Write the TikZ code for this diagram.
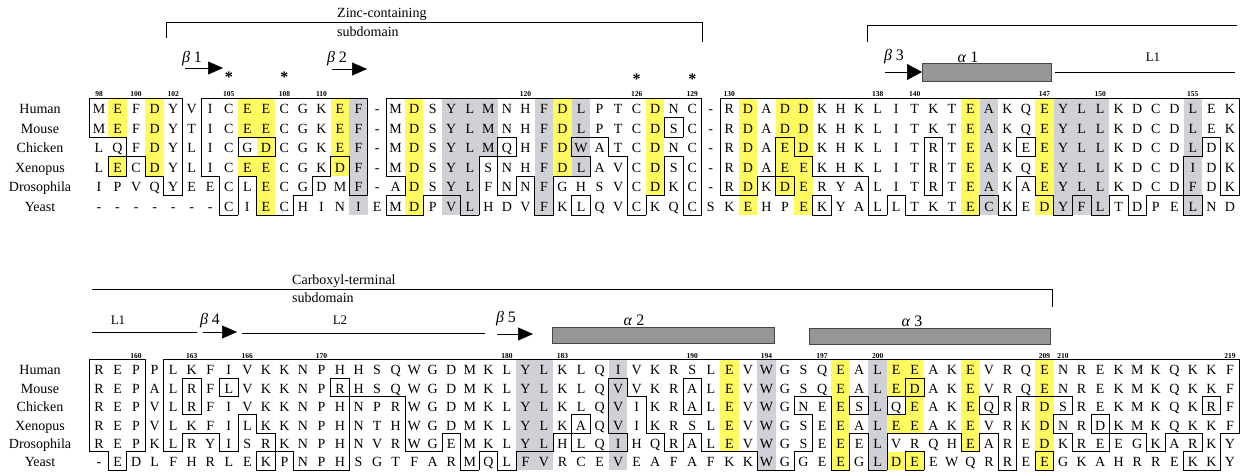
\documentclass[tikz,border=0pt]{standalone}
\usepackage{fontspec}
\setmainfont{Liberation Serif}
\usetikzlibrary{arrows.meta}

\definecolor{hlyellow}{RGB}{255,250,95}
\definecolor{hlgray}{RGB}{208,208,215}
\definecolor{helixgray}{RGB}{150,150,153}
\definecolor{helixedge}{RGB}{70,70,75}

\tikzset{
  res/.style={inner sep=0pt, anchor=base, font=\fontsize{14}{14}\selectfont},
  species/.style={inner sep=0pt, anchor=base, font=\fontsize{14}{14}\selectfont},
  resnum/.style={inner sep=0pt, anchor=base, font=\bfseries\fontsize{7.5}{7.5}\selectfont},
  boxline/.style={line width=0.8pt, line cap=rect},
  yel/.style={fill=hlyellow},
  gry/.style={fill=hlgray},
  rule/.style={line width=0.7pt},
  strand/.style={line width=0.7pt, -{Triangle[length=15pt,width=13pt]}},
  helix/.style={draw=helixedge, fill=helixgray, line width=0.7pt},
  sslabel/.style={inner sep=0pt, font=\fontsize{16}{16}\selectfont},
  looplabel/.style={inner sep=0pt, font=\fontsize{13}{13}\selectfont},
  domlabel/.style={inner sep=0pt, anchor=west, font=\fontsize{14}{14}\selectfont},
  conserved/.style={inner sep=0pt, font=\bfseries\fontsize{16}{16}\selectfont},
}

% highlight one column: column, first row, last row, style
\newcommand\hlcol[4]{%
  \fill[#4] ({99+(#1-0.5)*18.54},{\ytop+#2*\rowh}) rectangle ({99+(#1+0.5)*18.54},{\ytop+(#3+1)*\rowh});}

\ExplSyntaxOn
\intarray_new:Nn \g__aln_flag_intarray { 372 }
\int_step_inline:nn { 6 } { \str_new:c { g__aln_row_#1_str } }
\str_new:N \l__aln_h_str
\int_new:N \l__aln_n_int
\int_new:N \l__aln_f_int
\tl_new:N \l__aln_x_tl
\tl_new:N \l__aln_y_tl
\cs_generate_variant:Nn \str_item:Nn { c }
\cs_new:Npn \__aln_char:nn #1#2 { \str_item:cn { g__aln_row_#1_str } {#2} }
\cs_new:Npn \__aln_flag:nn #1#2
 {
  \int_compare:nTF { 1 <= #1 <= 6 }
   {
    \int_compare:nTF { 1 <= #2 <= 62 }
     { \intarray_item:Nn \g__aln_flag_intarray { (#1 - 1) * 62 + #2 } }
     { 0 }
   }
   { 0 }
 }
% a residue is boxed when it equals the human one and at least two rows share it
\cs_new_protected:Npn \__aln_compute:
 {
  \int_step_inline:nn { 62 }
   {
    \str_set:Nx \l__aln_h_str { \__aln_char:nn { 1 } { ##1 } }
    \int_zero:N \l__aln_n_int
    \int_step_inline:nn { 6 }
     {
      \str_if_eq:eeT { \__aln_char:nn { ####1 } { ##1 } } { \l__aln_h_str }
       { \int_incr:N \l__aln_n_int }
     }
    \int_step_inline:nn { 6 }
     {
      \int_zero:N \l__aln_f_int
      \str_if_eq:eeT { \__aln_char:nn { ####1 } { ##1 } } { \l__aln_h_str }
       { \int_compare:nNnT { \l__aln_n_int } > { 1 } { \int_set:Nn \l__aln_f_int { 1 } } }
      \str_if_eq:eeT { \l__aln_h_str } { - } { \int_zero:N \l__aln_f_int }
      \intarray_gset:Nnn \g__aln_flag_intarray { (####1 - 1) * 62 + ##1 } { \l__aln_f_int }
     }
   }
 }
\cs_new_protected:Npn \__aln_edges:nn #1#2
 {
  \int_step_inline:nnn { 0 } { 6 }
   {
    \int_step_inline:nn { 62 }
     {
      \int_compare:nNnF { \__aln_flag:nn { ##1 } { ####1 } } = { \__aln_flag:nn { ##1 + 1 } { ####1 } }
       {
        \tl_set:Nx \l__aln_x_tl { \fp_eval:n { 99 + (####1 - 1.5) * 18.54 } }
        \tl_set:Nx \l__aln_y_tl { \fp_eval:n { #1 + ##1 * #2 } }
        \draw [ boxline ] ( \l__aln_x_tl , \l__aln_y_tl ) -- ++ ( 18.54 , 0 ) ;
       }
     }
   }
  \int_step_inline:nn { 6 }
   {
    \int_step_inline:nnn { 0 } { 62 }
     {
      \int_compare:nNnF { \__aln_flag:nn { ##1 } { ####1 } } = { \__aln_flag:nn { ##1 } { ####1 + 1 } }
       {
        \tl_set:Nx \l__aln_x_tl { \fp_eval:n { 99 + (####1 - 0.5) * 18.54 } }
        \tl_set:Nx \l__aln_y_tl { \fp_eval:n { #1 + (##1 - 1) * #2 } }
        \draw [ boxline ] ( \l__aln_x_tl , \l__aln_y_tl ) -- ++ ( 0 , #2 ) ;
       }
     }
   }
 }
\cs_new_protected:Npn \__aln_letters:nnn #1#2#3
 {
  \int_step_inline:nn { 6 }
   {
    \int_step_inline:nn { 62 }
     {
      \tl_set:Nx \l__aln_x_tl { \fp_eval:n { 99 + (####1 - 1) * 18.54 } }
      \tl_set:Nx \l__aln_y_tl { \fp_eval:n { #2 + (##1 - 0.5) * #3 + 6.2 } }
      \node [ res ] ( #1 - ##1 - ####1 ) at ( \l__aln_x_tl , \l__aln_y_tl ) { \__aln_char:nn { ##1 } { ####1 } } ;
     }
   }
 }
% rows 1-6, name prefix, top y, row height
\NewDocumentCommand \alnblock { m m m m m m m m m }
 {
  \str_gset:cn { g__aln_row_1_str } {#1}
  \str_gset:cn { g__aln_row_2_str } {#2}
  \str_gset:cn { g__aln_row_3_str } {#3}
  \str_gset:cn { g__aln_row_4_str } {#4}
  \str_gset:cn { g__aln_row_5_str } {#5}
  \str_gset:cn { g__aln_row_6_str } {#6}
  \__aln_compute:
  \__aln_edges:nn {#8} {#9}
  \__aln_letters:nnn {#7} {#8} {#9}
 }
\ExplSyntaxOff

\begin{document}
\begin{tikzpicture}[x=1pt,y=-1pt]
\useasboundingbox (0,0) rectangle (1243,475);
\fill[white] (0,0) rectangle (1243,475);

% ---- upper block
\def\ytop{98}\def\rowh{19.5}
\foreach \c/\a/\b in {1/0/1,1/3/3,3/0/3,8/0/1,8/3/3,9/0/5,13/0/3,17/0/5,25/0/3,30/0/4,35/0/5,37/0/4,38/0/5,47/0/5,51/0/5}
  \hlcol{\c}{\a}{\b}{yel};
\foreach \c/\a/\b in {14/0/5,19/0/5,20/0/5,21/0/2,24/0/5,26/0/3,48/0/5,52/0/5,53/0/5,54/0/5,59/0/5}
  \hlcol{\c}{\a}{\b}{gry};
\alnblock{MEFDYVICEECGKEF-MDSYLMNHFDLPTCDNC-RDADDKHKLITKTEAKQEYLLKDCDLEK}
         {MEFDYTICEECGKEF-MDSYLMNHFDLPTCDSC-RDADDKHKLITKTEAKQEYLLKDCDLEK}
         {LQFDYLICGDCGKEF-MDSYLMQHFDWATCDNC-RDAEDKHKLITRTEAKEEYLLKDCDLDK}
         {LECDYLICEECGKDF-MDSYLSNHFDLAVCDSC-RDAEEKHKLITRTEAKQEYLLKDCDIDK}
         {IPVQYEECLECGDMF-ADSYLFNNFGHSVCDKC-RDKDERYALITRTEAKAEYLLKDCDFDK}
         {-------CIECHINIEMDPVLHDVFKLQVCKQCSKEHPEKYALLTKTECKEDYFLTDPELND}
         {T}{98}{19.5}
\foreach \c/\n in {0/98,2/100,4/102,7/105,10/108,12/110,23/120,29/126,32/129,34/130,42/138,44/140,51/147,54/150,59/155}
  \node[resnum] (nT\n) at ({99+\c*18.54},96.5) {\n};

% ---- lower block
\def\ytop{359.5}\def\rowh{18.4}
\foreach \c/\a/\b in {34/0/4,40/0/5,43/0/1,43/3/3,43/5/5,44/0/3,44/5/5,47/0/4,51/0/5}
  \hlcol{\c}{\a}{\b}{yel};
\foreach \c/\a/\b in {23/0/5,24/0/5,28/0/5,36/0/5,42/0/5}
  \hlcol{\c}{\a}{\b}{gry};
\alnblock{REPPLKFIVKKNPHHSQWGDMKLYLKLQIVKRSLEVWGSQEALEEAKEVRQENREKMKQKKF}
         {REPALRFLVKKNPRHSQWGDMKLYLKLQVVKRALEVWGSQEALEDAKEVRQENREKMKQKKF}
         {REPVLRFIVKKNPHNPRWGDMKLYLKLQVIKRALEVWGNEESLQEAKEQRRDSREKMKQKRF}
         {REPVLKFILKKNPHNTHWGDMKLYLKAQVIKRSLEVWGSEEALEEAKEVRKDNRDKMKQKKF}
         {REPKLRYISRKNPHNVRWGEMKLYLHLQIHQRALEVWGSEEELVRQHEAREDKREEGKARKY}
         {-EDLFHRLEKPNPHSGTFARMQLFVRCEVEAFAFKKWGGEEGLDEEWQRREEGKAHRREKKY}
         {B}{359.5}{18.4}
\foreach \c/\n in {2/160,5/163,8/166,12/170,22/180,25/183,32/190,36/194,39/197,42/200,51/209,52/210,61/219}
  \node[resnum] (nB\n) at ({99+\c*18.54},358) {\n};

% species names
\foreach \sp [count=\i] in {Human,Mouse,Chicken,Xenopus,Drosophila,Yeast} {
  \node[species] (spT\i) at (40,{98+(\i-0.5)*19.5+6.2}) {\sp};
  \node[species] (spB\i) at (40,{359.5+(\i-0.5)*18.4+6.2}) {\sp};
}

% ---- secondary structure, upper
\draw[rule] (166,38) -- (166,22) -- (702,22) -- (702,42);
\node[domlabel] (zinc) at (337,14.5) {Zinc-containing};
\node[domlabel] (zincsub) at (337,32) {subdomain};
\draw[rule] (867,42) -- (867,25) -- (1237,25);
\node[sslabel] (b1) at (192,59) {\textit{β} 1};
\draw[strand] (185,68) -- (223,68);
\node[sslabel] (b2) at (337,59) {\textit{β} 2};
\draw[strand] (332,69) -- (367,69);
\foreach \c/\y [count=\k] in {7/77,10/77,29/79,32/79}
  \node[conserved] (ast\k) at ({99+\c*18.54},\y) {*};
\node[sslabel] (b3) at (894,57) {\textit{β} 3};
\draw[strand, -{Triangle[length=15pt,width=16pt]}] (885,72) -- (922,72);
\draw[helix] (922,63) rectangle (1051,81);
\node[sslabel] (a1) at (968,57) {\textit{α} 1};
\draw[rule] (1055,72) -- (1235,72);
\node[looplabel] (l1top) at (1153,57) {L1};

% ---- secondary structure, lower
\draw[rule] (92,289) -- (1052,289) -- (1052,307);
\node[domlabel] (carb) at (292,281.5) {Carboxyl-terminal};
\node[domlabel] (carbsub) at (292,298) {subdomain};
\node[looplabel] (l1bot) at (118,320) {L1};
\draw[rule] (92,332) -- (197,332);
\node[sslabel] (b4) at (210,321) {\textit{β} 4};
\draw[strand] (203,332) -- (237,332);
\draw[rule] (242,333) -- (485,333);
\node[looplabel] (l2) at (340,320) {L2};
\node[sslabel] (b5) at (506,319) {\textit{β} 5};
\draw[strand] (497,334) -- (533,334);
\draw[helix] (552,327) rectangle (774,343);
\node[sslabel] (a2) at (634,320) {\textit{α} 2};
\draw[helix] (809,328) rectangle (1050,344);
\node[sslabel] (a3) at (912,321) {\textit{α} 3};
\end{tikzpicture}
\end{document}
